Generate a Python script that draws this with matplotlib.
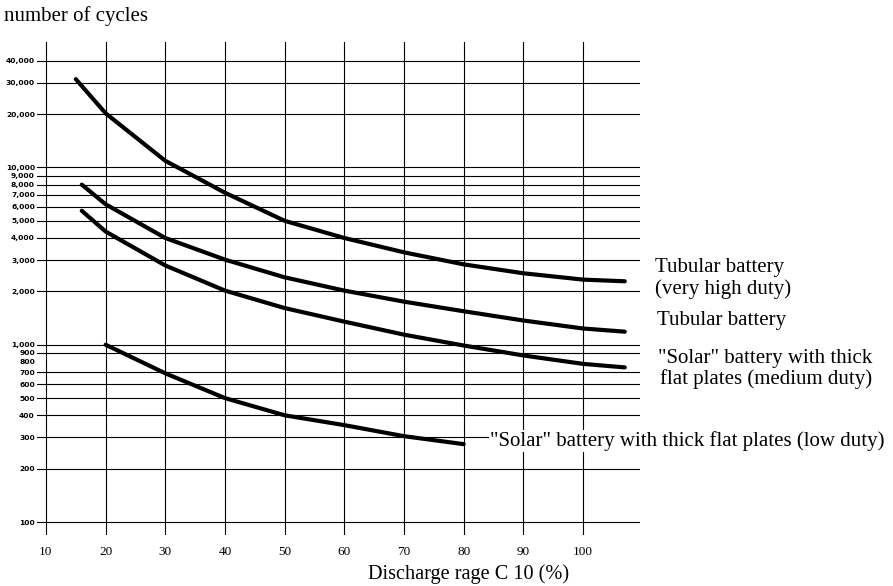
import matplotlib
matplotlib.use("Agg")
import matplotlib.pyplot as plt

# Discharge depth (%) vs. number of cycles for four battery types
x_very_high = [15, 20, 30, 40, 50, 60, 70, 80, 90, 100, 107]
y_very_high = [31500, 20200, 10900, 7200, 5000, 4000, 3320, 2840, 2530, 2330, 2280]

x_tubular = [16, 20, 30, 40, 50, 60, 70, 80, 90, 100, 107]
y_tubular = [8000, 6200, 4000, 3020, 2400, 2020, 1750, 1545, 1370, 1235, 1185]

x_medium = [16, 20, 30, 40, 50, 60, 70, 80, 90, 100, 107]
y_medium = [5700, 4350, 2800, 2020, 1610, 1350, 1140, 990, 870, 780, 745]

x_low = [20, 30, 40, 50, 60, 70, 80]
y_low = [1000, 690, 500, 400, 352, 305, 275]

x_ticks = [10, 20, 30, 40, 50, 60, 70, 80, 90, 100]
y_ticks = [100, 200, 300, 400, 500, 600, 700, 800, 900, 1000,
           2000, 3000, 4000, 5000, 6000, 7000, 8000, 9000, 10000,
           20000, 30000, 40000]
y_tick_labels = ["100", "200", "300", "400", "500", "600", "700", "800", "900", "1,000",
                 "2,000", "3,000", "4,000", "5,000", "6,000", "7,000", "8,000", "9,000", "10,000",
                 "20,000", "30,000", "40,000"]
y_grid = [v for v in y_ticks if v != 800]

W, H = 893, 586
fig = plt.figure(figsize=(W / 100, H / 100), dpi=100)
fig.patch.set_facecolor("white")

left, right, top, bottom = 37, 640, 42, 535
ax = fig.add_axes([left / W, 1 - bottom / H, (right - left) / W, (bottom - top) / H])
ax.set_yscale("log")
ax.set_xlim(8.5, 109.55)
ax.set_ylim(84.5, 51000)

for s in ax.spines.values():
    s.set_visible(False)

for v in y_grid:
    ax.axhline(v, color="black", lw=0.8, zorder=1)
for v in x_ticks:
    ax.axvline(v, color="black", lw=0.8, zorder=1)

ax.set_xticks(x_ticks)
ax.set_xticklabels([str(v) for v in x_ticks], family="Liberation Serif", fontsize=9.5)
ax.set_yticks(y_ticks)
ax.set_yticklabels(y_tick_labels, family="DejaVu Sans", fontsize=5.4, fontweight="bold")
ax.yaxis.set_minor_locator(matplotlib.ticker.NullLocator())
ax.tick_params(axis="y", length=0, pad=1.5)
ax.tick_params(axis="x", length=0, pad=8)

line_kw = dict(color="black", lw=3.0, solid_capstyle="round", solid_joinstyle="round", zorder=3)
ax.plot(x_very_high, y_very_high, **line_kw)
ax.plot(x_tubular, y_tubular, **line_kw)
ax.plot(x_medium, y_medium, **line_kw)
ax.plot(x_low, y_low, **line_kw)


def ftext(px, py, s, **kw):
    return fig.text(px / W, 1 - py / H, s, family="Liberation Serif", va="center", **kw)


ftext(4, 16, "number of cycles", fontsize=15)
ftext(469, 574, "Discharge rage C 10 (%)", fontsize=14.6, ha="center")
ftext(655, 268, "Tubular battery", fontsize=15)
ftext(655, 289, "(very high duty)", fontsize=15)
ftext(657, 321, "Tubular battery", fontsize=15)
ftext(658, 358, "\"Solar\" battery with thick", fontsize=15)
ftext(660, 379, "flat plates (medium duty)", fontsize=15)
ftext(490, 441, "\"Solar\" battery with thick flat plates (low duty)", fontsize=15,
      zorder=5, bbox=dict(facecolor="white", edgecolor="none", pad=0.5))

fig.savefig("out.png", dpi=100, facecolor="white")
